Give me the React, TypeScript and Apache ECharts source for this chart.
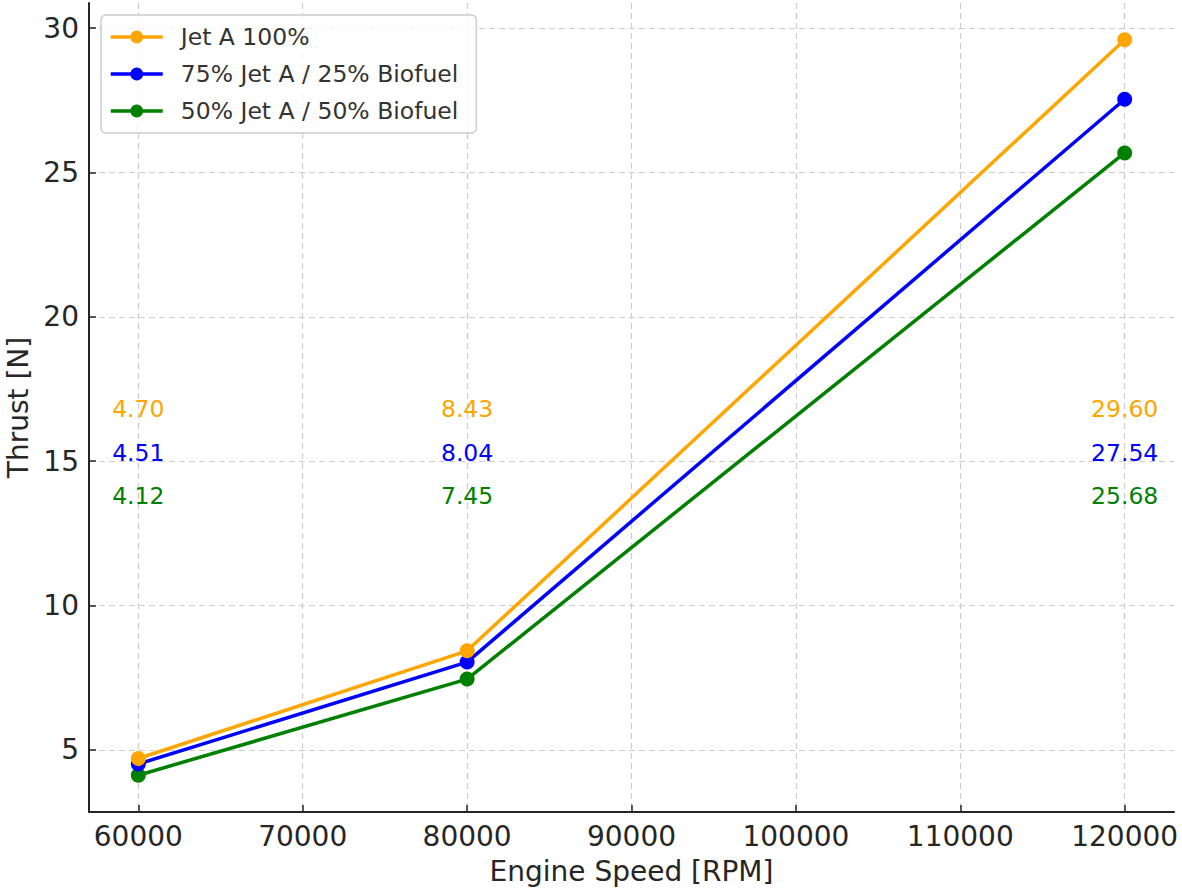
import React, { useEffect, useRef } from "react";
import * as echarts from "echarts";

const speeds = [60000, 80000, 120000];
const jetA100 = [4.7, 8.43, 29.6];
const jet75bio25 = [4.51, 8.04, 27.54];
const jet50bio50 = [4.12, 7.45, 25.68];
const seriesNames = ["Jet A 100%", "75% Jet A / 25% Biofuel", "50% Jet A / 50% Biofuel"];
const seriesColors = ["#FFA500", "#0000FF", "#008000"];
const labelRowY = [16.8, 15.3, 13.8];
const xTicks = [60000, 70000, 80000, 90000, 100000, 110000, 120000];
const yTicks = [5, 10, 15, 20, 25, 30];
const xRange = [57000, 123000];
const yRange = [2.846, 30.874];

const FONT = "DejaVu Sans";
const TXT = "#262626";

export default function App() {
  const ref = useRef<HTMLDivElement>(null);
  useEffect(() => {
    if (!ref.current) return;
    const chart = echarts.init(ref.current, null, { renderer: "svg" });
    const all = [jetA100, jet75bio25, jet50bio50];
    const lineSeries = all.map((vals, i) => ({
      name: seriesNames[i],
      type: "line",
      data: speeds.map((s, j) => [s, vals[j]]),
      symbol: "circle",
      symbolSize: 15,
      lineStyle: { color: seriesColors[i], width: 3.5 },
      itemStyle: { color: seriesColors[i] },
      z: 5 - i,
    }));
    const labelSeries = all.map((vals, i) => ({
      name: "lbl" + i,
      type: "scatter",
      symbolSize: 0,
      silent: true,
      itemStyle: { opacity: 1, color: seriesColors[i] },
      data: speeds.map((s, j) => ({ value: [s, labelRowY[i]], txt: vals[j].toFixed(2) })),
      label: {
        show: true,
        position: "inside",
        formatter: (p: any) => p.data.txt,
        color: seriesColors[i],
        opacity: 1,
        fontFamily: FONT,
        fontSize: 23.5,
      },
    }));
    chart.setOption({
      animation: false,
      backgroundColor: "#ffffff",
      textStyle: { fontFamily: FONT },
      grid: { left: 89, right: 8, top: 3, bottom: 77, containLabel: false, outerBoundsMode: "none" },
      legend: {
        data: seriesNames,
        orient: "vertical",
        left: 101,
        top: 15,
        padding: [10, 18, 10, 8],
        itemGap: 13,
        itemWidth: 52,
        itemHeight: 16,
        lineStyle: { width: 3.5 },
        backgroundColor: "rgba(255,255,255,0.8)",
        borderColor: "#cccccc",
        borderWidth: 1.5,
        borderRadius: 5,
        textStyle: { fontFamily: FONT, fontSize: 23.5, color: "#333333", padding: [0, 0, 0, 13] },
      },
      xAxis: {
        type: "value",
        min: xRange[0],
        max: xRange[1],
        name: "Engine Speed [RPM]",
        nameLocation: "middle",
        nameGap: 45,
        nameTextStyle: { fontFamily: FONT, fontSize: 28, color: TXT },
        axisLine: { show: true, onZero: false, lineStyle: { color: TXT, width: 2 } },
        axisTick: { show: true, inside: true, length: 7, lineStyle: { color: TXT, width: 1.5 }, customValues: xTicks },
        axisLabel: { fontFamily: FONT, fontSize: 28, color: TXT, margin: 10, customValues: xTicks, formatter: (v: number) => String(v) },
        splitLine: { show: true, lineStyle: { color: "#cccccc", type: [6, 4], width: 1.2 } },
      },
      yAxis: {
        type: "value",
        min: yRange[0],
        max: yRange[1],
        name: "Thrust [N]",
        nameLocation: "middle",
        nameGap: 57,
        nameTextStyle: { fontFamily: FONT, fontSize: 28, color: TXT },
        axisLine: { show: true, onZero: false, lineStyle: { color: TXT, width: 2 } },
        axisTick: { show: true, inside: true, length: 7, lineStyle: { color: TXT, width: 1.5 }, customValues: yTicks },
        axisLabel: { fontFamily: FONT, fontSize: 28, color: TXT, margin: 10, customValues: yTicks },
        splitLine: { show: true, lineStyle: { color: "#cccccc", type: [6, 4], width: 1.2 } },
      },
      series: [...lineSeries, ...labelSeries],
    });
    return () => chart.dispose();
  }, []);
  return <div ref={ref} style={{ width: 1182, height: 889, position: "absolute", left: 0, top: 0 }} />;
}
